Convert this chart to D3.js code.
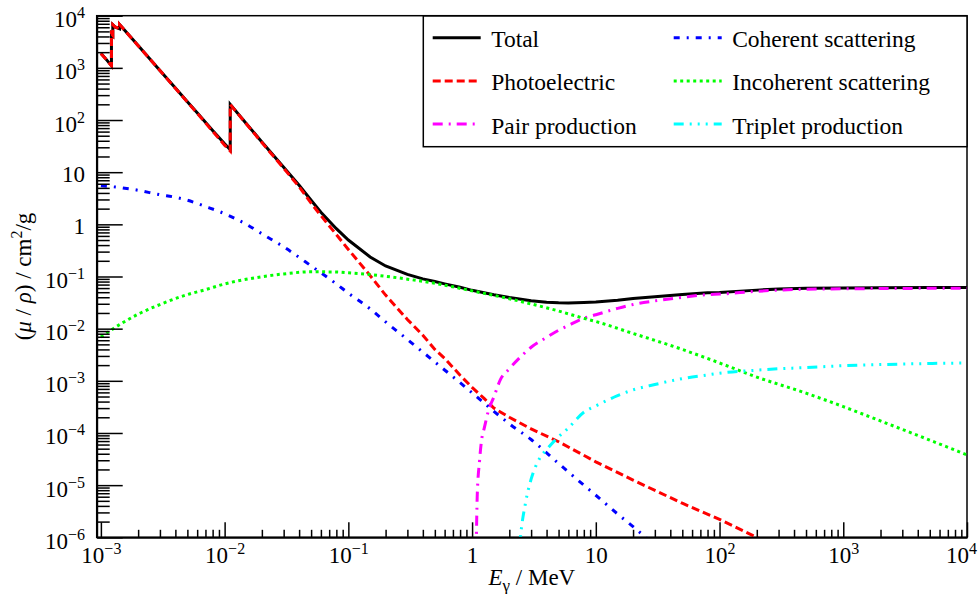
<!DOCTYPE html>
<html>
<head>
<meta charset="utf-8">
<script src="https://cdn.jsdelivr.net/npm/d3@7"></script>
<style>
  body { margin: 0; background: #fff; }
  svg { display: block; font-family: "Liberation Serif", "Times New Roman", serif; }
</style>
</head>
<body>
<svg id="chart" width="978" height="594"></svg>
<script>
// photon energy in MeV, mass attenuation coefficient in cm2/g
const totalE = [1e-3, 1.1e-3, 1.217e-3, 1.217e-3, 1.248e-3, 1.248e-3, 1.3e-3, 1.414e-3, 1.414e-3, 1.5e-3,
  2e-3, 3e-3, 4e-3, 5e-3, 6e-3, 8e-3, 1e-2, 1.11e-2, 1.11e-2, 1.5e-2, 2e-2, 3e-2, 4e-2, 5e-2, 6e-2, 8e-2,
  0.1, 0.15, 0.2, 0.3, 0.4, 0.5, 0.6, 0.8, 1, 1.25, 1.5, 2, 3, 4, 5, 6, 8, 10, 15, 20, 30, 50, 80, 100,
  200, 300, 500, 1000, 2000, 5000, 10000];
const totalV = [1900, 1470, 1100, 4500, 4200, 6700, 6100, 5600, 6800, 5800,
  2670, 893, 410, 225, 138, 63, 35, 27, 200, 85, 38, 12.4, 5.6, 2.9, 1.71, 0.825,
  0.50, 0.237, 0.159, 0.110, 0.090, 0.0803, 0.0723, 0.0622, 0.0543, 0.0488, 0.0447, 0.0397, 0.0344, 0.0321,
  0.0313, 0.0311, 0.0319, 0.0326, 0.0351, 0.0378, 0.0408, 0.0451, 0.0489, 0.0496,
  0.0548, 0.0574, 0.0594, 0.0603, 0.0610, 0.0615, 0.0617];

const photoE = [1e-3, 1.1e-3, 1.217e-3, 1.217e-3, 1.248e-3, 1.248e-3, 1.3e-3, 1.414e-3, 1.414e-3, 1.5e-3,
  2e-3, 3e-3, 4e-3, 5e-3, 6e-3, 8e-3, 1e-2, 1.11e-2, 1.11e-2, 1.5e-2, 2e-2, 3e-2, 4e-2, 5e-2, 6e-2, 8e-2,
  0.1, 0.15, 0.2, 0.3, 0.4, 0.5, 0.6, 0.8, 1, 1.25, 1.5, 2, 3, 5, 10, 20, 50, 100, 200, 300];
const photoV = [1894, 1465, 1095, 4495, 4195, 6695, 6095, 5595, 6795, 5795,
  2665, 889, 406, 222, 135, 61, 33, 25.5, 198, 84, 37, 11.9, 5.25, 2.55, 1.47, 0.635,
  0.33, 0.104, 0.044, 0.015, 0.0075, 0.004, 0.0027, 0.00128, 7.5e-4, 4.6e-4, 3.0e-4, 2.0e-4, 1.2e-4, 6.8e-5,
  2.8e-5, 1.25e-5, 4.5e-6, 2.2e-6, 1.0e-6, 6.3e-7];

const cohE = [1e-3, 1.5e-3, 2e-3, 3e-3, 4e-3, 5e-3, 7e-3, 1e-2, 1.5e-2, 2e-2, 3e-2, 5e-2, 8e-2, 0.1, 0.15,
  0.2, 0.3, 0.5, 0.8, 1, 1.5, 2, 3, 5, 8, 10, 15, 20, 30];
const cohV = [5.5, 5.0, 4.5, 3.7, 3.3, 2.9, 2.2, 1.6, 1.0, 0.66, 0.37, 0.16, 0.072, 0.048, 0.024,
  0.0135, 0.0062, 0.0023, 9.2e-4, 5.9e-4, 2.6e-4, 1.5e-4, 7.5e-5, 2.6e-5, 1.0e-5, 6.4e-6, 2.8e-6, 1.6e-6, 7e-7];

const incohE = [1e-3, 1.5e-3, 2e-3, 3e-3, 5e-3, 7e-3, 1e-2, 2e-2, 3e-2, 5e-2, 8e-2, 0.1, 0.15, 0.2, 0.3,
  0.5, 1, 2, 3, 5, 8, 10, 20, 50, 100, 200, 500, 1000, 2000, 5000, 10000];
const incohV = [0.0069, 0.013, 0.019, 0.029, 0.045, 0.056, 0.072, 0.099, 0.112, 0.123, 0.122, 0.118, 0.109, 0.101, 0.089,
  0.074, 0.053, 0.0375, 0.0298, 0.0218, 0.0158, 0.0137, 0.0081, 0.0040, 0.0022, 0.00118, 5.8e-4, 3.2e-4, 1.7e-4, 7.3e-5, 3.8e-5];

const pairE = [1.03, 1.05, 1.08, 1.1, 1.15, 1.2, 1.25, 1.36, 1.5, 1.69, 2, 2.5, 3, 4, 5, 6, 8, 10, 15, 20,
  30, 50, 80, 100, 200, 300, 500, 1000, 2000, 5000, 10000];
const pairV = [1e-9, 4e-8, 7e-7, 6e-6, 3e-5, 8e-5, 1.2e-4, 2.75e-4, 4.9e-4, 1.04e-3, 1.7e-3, 2.97e-3, 4.4e-3, 6.8e-3, 9.3e-3, 0.0115, 0.0158, 0.0185, 0.0245, 0.029,
  0.034, 0.040, 0.045, 0.046, 0.052, 0.0548, 0.057, 0.058, 0.0588, 0.0593, 0.0595];

const tripE = [2.1, 2.2, 2.3, 2.46, 2.7, 3, 3.5, 4, 5, 6, 8, 10, 15, 20, 30, 50, 80, 100, 200, 300,
  500, 1000, 2000, 5000, 10000];
const tripV = [3e-10, 1e-8, 1.2e-7, 1.0e-6, 4.5e-6, 1.3e-5, 3.2e-5, 4.8e-5, 8.5e-5, 1.25e-4, 2.5e-4, 3.3e-4, 5.2e-4, 6.7e-4, 8.5e-4, 1.1e-3, 1.3e-3, 1.4e-3, 1.6e-3, 1.7e-3,
  1.8e-3, 1.95e-3, 2.05e-3, 2.15e-3, 2.2e-3];

const xMajor = [1e-3, 1e-2, 1e-1, 1, 10, 100, 1000, 10000];
const yMajor = [1e-6, 1e-5, 1e-4, 1e-3, 1e-2, 1e-1, 1, 10, 100, 1000, 10000];

const series = [
  { name: 'Total', E: totalE, V: totalV, color: '#000000', dash: null, curve: d3.curveLinear, col: 0, row: 0 },
  { name: 'Photoelectric', E: photoE, V: photoV, color: '#ff0000', dash: '8,4', curve: d3.curveLinear, col: 0, row: 1 },
  { name: 'Pair production', E: pairE, V: pairV, color: '#ff00ff', dash: '10,6,2,6', curve: d3.curveMonotoneX, col: 0, row: 2 },
  { name: 'Coherent scattering', E: cohE, V: cohV, color: '#0000ff', dash: '6,7,2,7', curve: d3.curveMonotoneX, col: 1, row: 0 },
  { name: 'Incoherent scattering', E: incohE, V: incohV, color: '#00ff00', dash: '3,3.5', curve: d3.curveMonotoneX, col: 1, row: 1 },
  { name: 'Triplet production', E: tripE, V: tripV, color: '#00ffff', dash: '10,6,2,6,2,6,2,6', curve: d3.curveMonotoneX, col: 1, row: 2 },
];

const plot = { left: 96.7, right: 967, top: 15.7, bottom: 537.3 };
const fontFamily = '"Liberation Serif", "Times New Roman", serif';

const svg = d3.select('#chart');

const x = d3.scaleLog().domain([9.25e-4, 1e4]).range([plot.left, plot.right]);
const y = d3.scaleLog().domain([1e-6, 1e4]).range([plot.bottom, plot.top]);

function minorTicks(scale) {
  const [a, b] = scale.domain();
  const out = [];
  for (let k = Math.floor(Math.log10(a)); k < Math.ceil(Math.log10(b)); k++) {
    for (let m = 2; m <= 9; m++) {
      const v = m * Math.pow(10, k);
      if (v >= a && v <= b) out.push(v);
    }
  }
  return out;
}

// write 1, 10 or 10^n with a raised exponent
function powLabel(text, v) {
  const e = Math.round(Math.log10(v));
  text.text(null);
  if (e === 0) { text.append('tspan').text('1'); return; }
  if (e === 1) { text.append('tspan').text('10'); return; }
  text.append('tspan').text('10');
  text.append('tspan').attr('dy', -9).attr('font-size', 16)
    .text(e < 0 ? '\u2212' + (-e) : String(e));
}

// frame
svg.append('rect')
  .attr('x', plot.left).attr('y', plot.top)
  .attr('width', plot.right - plot.left).attr('height', plot.bottom - plot.top)
  .attr('fill', 'none').attr('stroke', '#000').attr('stroke-width', 1.5);

svg.append('clipPath').attr('id', 'clip').append('rect')
  .attr('x', plot.left).attr('y', plot.top)
  .attr('width', plot.right - plot.left).attr('height', plot.bottom - plot.top);

const curves = svg.append('g').attr('clip-path', 'url(#clip)');

for (const s of series) {
  const line = d3.line()
    .x(i => x(s.E[i]))
    .y(i => y(s.V[i]))
    .curve(s.curve);
  curves.append('path')
    .attr('d', line(d3.range(s.E.length)))
    .attr('fill', 'none')
    .attr('stroke', s.color)
    .attr('stroke-width', 3)
    .attr('stroke-dasharray', s.dash);
}

// x axis
const xMinorG = svg.append('g')
  .attr('transform', `translate(0,${plot.bottom})`)
  .call(d3.axisBottom(x).tickValues(minorTicks(x)).tickSize(-7.5).tickSizeOuter(0).tickFormat(''));
xMinorG.select('.domain').remove();

const xAxisG = svg.append('g')
  .attr('transform', `translate(0,${plot.bottom})`)
  .call(d3.axisBottom(x).tickValues(xMajor).tickSize(-15).tickSizeOuter(0).tickFormat(''));
xAxisG.select('.domain').attr('stroke-width', 2);
xAxisG.selectAll('.tick text')
  .attr('y', 26).attr('dy', null)
  .attr('font-family', fontFamily).attr('font-size', 23).attr('fill', '#000')
  .attr('text-anchor', 'middle')
  .each(function (d) { powLabel(d3.select(this), d); });

// keep the last label inside the canvas, as the original does
xAxisG.selectAll('.tick text').each(function (d) {
  const tickX = x(d);
  const box = this.getBBox();
  const over = tickX + box.x + box.width - 976.5;
  if (over > 0) d3.select(this).attr('x', -over);
});

// y axis
const yMinorG = svg.append('g')
  .attr('transform', `translate(${plot.left},0)`)
  .call(d3.axisLeft(y).tickValues(minorTicks(y)).tickSize(-13).tickSizeOuter(0).tickFormat(''));
yMinorG.select('.domain').remove();

const yAxisG = svg.append('g')
  .attr('transform', `translate(${plot.left},0)`)
  .call(d3.axisLeft(y).tickValues(yMajor).tickSize(-26).tickSizeOuter(0).tickFormat(''));
yAxisG.select('.domain').attr('stroke-width', 2);
yAxisG.selectAll('.tick text')
  .attr('x', -11.7).attr('dy', null)
  .attr('y', d => (d === 1 || d === 10) ? 9 : 11)
  .attr('font-family', fontFamily).attr('font-size', 23).attr('fill', '#000')
  .attr('text-anchor', 'end')
  .each(function (d) { powLabel(d3.select(this), d); });

svg.selectAll('.tick line').attr('stroke-width', 1.5);

// axis titles
const xTitle = svg.append('text')
  .attr('x', (plot.left + plot.right) / 2).attr('y', 585)
  .attr('text-anchor', 'middle').attr('font-size', 23).attr('font-family', fontFamily);
xTitle.append('tspan').attr('font-style', 'italic').text('E');
xTitle.append('tspan').attr('dy', 6).attr('font-size', 17).text('\u03b3');
xTitle.append('tspan').attr('dy', -6).text(' / MeV');

const yTitle = svg.append('text')
  .attr('transform', `translate(31,${(plot.top + plot.bottom) / 2}) rotate(-90)`)
  .attr('text-anchor', 'middle').attr('font-size', 23).attr('font-family', fontFamily);
yTitle.append('tspan').text('(');
yTitle.append('tspan').attr('font-style', 'italic').text('\u03bc');
yTitle.append('tspan').text(' / ');
yTitle.append('tspan').attr('font-style', 'italic').text('\u03c1');
yTitle.append('tspan').text(') / cm');
yTitle.append('tspan').attr('dy', -9).attr('font-size', 16).text('2');
yTitle.append('tspan').attr('dy', 9).text('/g');

// legend
const legend = svg.append('g');
legend.append('rect')
  .attr('x', 423.3).attr('y', 16)
  .attr('width', plot.right - 423.3).attr('height', 130.7)
  .attr('fill', '#fff').attr('stroke', '#000').attr('stroke-width', 1.5);

const colX = [432.7, 673.7];
const rowY = [37.7, 80.9, 124.1];
for (const s of series) {
  const lx = colX[s.col], ly = rowY[s.row];
  legend.append('line')
    .attr('x1', lx).attr('x2', lx + 48).attr('y1', ly).attr('y2', ly)
    .attr('stroke', s.color).attr('stroke-width', 3)
    .attr('stroke-dasharray', s.dash);
  legend.append('text')
    .attr('x', lx + 58.5).attr('y', ly + 9.5)
    .attr('font-size', 23.5).attr('font-family', fontFamily).text(s.name);
}
</script>
</body>
</html>
